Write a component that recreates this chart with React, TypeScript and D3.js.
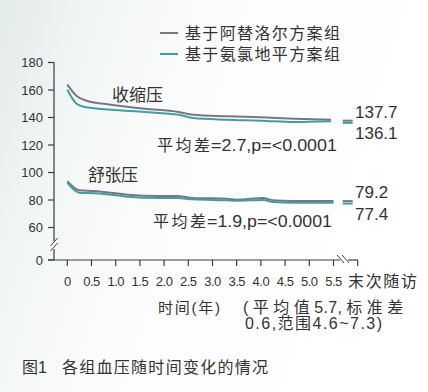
import React from "react";
import * as d3 from "d3";

const W = 428;
const H = 392;

// ---- data ----
const sysTimes = [0, 0.2, 0.4, 0.9, 1.6, 2.3, 2.6, 3.3, 4.0, 4.7, 5.45];
const sysAtenolol = [163.9, 155.4, 152.2, 149.3, 146.4, 144.0, 142.0, 140.9, 140.1, 139.1, 138.4];
const sysAmlodipine = [160.2, 149.8, 147.4, 145.7, 144.0, 142.0, 139.6, 138.4, 137.7, 136.7, 137.2];

const diaTimes = [0, 0.15, 0.25, 0.55, 0.9, 1.25, 1.9, 2.25, 2.6, 3.3, 3.5, 4.05, 4.25, 4.65, 5.5];
const diaAtenolol = [93.6, 88.7, 87.1, 86.5, 85.3, 83.9, 82.9, 82.9, 81.5, 80.9, 80.2, 81.5, 79.8, 79.3, 79.3];
const diaAmlodipine = [92.6, 87.1, 85.3, 84.9, 83.9, 82.4, 81.5, 81.5, 80.5, 79.8, 79.5, 80.0, 78.5, 78.0, 78.0];

const lastVisitSys = [137.7, 136.1];
const lastVisitDia = [79.2, 77.4];

const xTickValues = [0, 0.5, 1, 1.5, 2, 2.5, 3, 3.5, 4, 4.5, 5, 5.5];
const xTickLabels = ["0", "0.5", "1.0", "1.5", "2.0", "2.5", "3.0", "3.5", "4.0", "4.5", "5.0", "5.5"];
const lastVisitPos = 6;
const lastVisitLabel = "末次随访";
const yTickValues = [180, 160, 140, 120, 100, 80, 60];

const seriesNames = ["基于阿替洛尔方案组", "基于氨氯地平方案组"];
const colors = ["#7e7480", "#3f9ea4"];

const FONT = "'Liberation Sans', Arial, 'Noto Sans CJK SC', sans-serif";
const TEXT = "#333333";
const AXIS = "#3c3c3c";

export default function App() {
  const x = d3.scaleLinear().domain([0, 6]).range([67.3, 357.7]);
  const y = d3.scaleLinear().domain([60, 180]).range([227.5, 62.5]);
  const yZero = 260;
  const yAxisX = 54;

  const line = (times: number[]) =>
    d3
      .line<number>()
      .x((_, i) => x(times[i]))
      .y((v) => y(v))
      .curve(d3.curveMonotoneX);

  const sysLine = line(sysTimes);
  const diaLine = line(diaTimes);

  const endMark = (vals: number[], key: string) => {
    const xc = x(lastVisitPos);
    return (
      <g key={key}>
        {vals.map((v, i) => (
          <line
            key={i}
            x1={xc - 15}
            x2={xc - 5}
            y1={y(v)}
            y2={y(v)}
            stroke={colors[i]}
            strokeWidth={2}
          />
        ))}
        <text x={355} y={y(vals[0]) - 9} dy="0.35em" fontSize={17} fill={TEXT} fontFamily={FONT}>
          {vals[0].toFixed(1)}
        </text>
        <text x={355} y={y(vals[1]) + 10} dy="0.35em" fontSize={17} fill={TEXT} fontFamily={FONT}>
          {vals[1].toFixed(1)}
        </text>
      </g>
    );
  };

  return (
    <svg
      width={W}
      height={H}
      viewBox={`0 0 ${W} ${H}`}
      style={{ position: "absolute", left: 0, top: 0, display: "block" }}
    >
      <defs>
        <linearGradient id="bg" x1="0" y1="0" x2="1" y2="0.3">
          <stop offset="0" stopColor="#e3eaea" />
          <stop offset="0.25" stopColor="#f4f7f7" />
          <stop offset="0.55" stopColor="#fdfdfd" />
          <stop offset="1" stopColor="#ffffff" />
        </linearGradient>
      </defs>
      <rect x={0} y={0} width={W} height={H} fill="url(#bg)" />

      {/* legend */}
      {seriesNames.map((name, i) => (
        <g key={name}>
          <line x1={160} x2={178} y1={33 + i * 21} y2={33 + i * 21} stroke={colors[i]} strokeWidth={2} />
          <text
            x={185}
            y={33 + i * 21}
            dy="0.35em"
            fontSize={16}
            fill={TEXT}
            fontFamily={FONT}
            textLength={155}
            lengthAdjust="spacing"
          >
            {name}
          </text>
        </g>
      ))}

      {/* y axis */}
      <line x1={yAxisX} x2={yAxisX} y1={y(180)} y2={241} stroke={AXIS} strokeWidth={1.2} />
      <line x1={yAxisX} x2={yAxisX} y1={249} y2={yZero} stroke={AXIS} strokeWidth={1.2} />
      <line x1={50.5} y1={246} x2={57.5} y2={238} stroke={AXIS} strokeWidth={1} />
      <line x1={50.5} y1={251} x2={57.5} y2={243} stroke={AXIS} strokeWidth={1} />
      {yTickValues.map((v) => (
        <g key={v}>
          <line x1={yAxisX - 6} x2={yAxisX} y1={y(v)} y2={y(v)} stroke={AXIS} strokeWidth={1.2} />
          <text x={43} y={y(v)} dy="0.35em" textAnchor="end" fontSize={13} fill={TEXT} fontFamily={FONT}>
            {v}
          </text>
        </g>
      ))}
      <line x1={yAxisX - 6} x2={yAxisX} y1={yZero} y2={yZero} stroke={AXIS} strokeWidth={1.2} />
      <text x={43} y={yZero} dy="0.35em" textAnchor="end" fontSize={13} fill={TEXT} fontFamily={FONT}>
        0
      </text>

      {/* x axis */}
      <line x1={yAxisX - 6} x2={340} y1={yZero} y2={yZero} stroke={AXIS} strokeWidth={1.2} />
      <line x1={348} x2={x(lastVisitPos)} y1={yZero} y2={yZero} stroke={AXIS} strokeWidth={1.2} />
      <line x1={337} y1={255} x2={344} y2={263} stroke={AXIS} strokeWidth={1} />
      <line x1={342} y1={255} x2={349} y2={263} stroke={AXIS} strokeWidth={1} />
      {xTickValues.map((v, i) => (
        <g key={v}>
          <line x1={x(v)} x2={x(v)} y1={yZero} y2={yZero + 6} stroke={AXIS} strokeWidth={1.2} />
          <text
            x={x(v)}
            y={281}
            dy="0.35em"
            textAnchor="middle"
            fontSize={13}
            letterSpacing={-0.5}
            fill={TEXT}
            fontFamily={FONT}
          >
            {xTickLabels[i]}
          </text>
        </g>
      ))}
      <line
        x1={x(lastVisitPos)}
        x2={x(lastVisitPos)}
        y1={yZero}
        y2={yZero + 6}
        stroke={AXIS}
        strokeWidth={1.2}
      />
      <text
        x={348}
        y={281}
        dy="0.35em"
        fontSize={16}
        fill={TEXT}
        fontFamily={FONT}
        textLength={69}
        lengthAdjust="spacing"
      >
        {lastVisitLabel}
      </text>

      {/* x axis title */}
      <text x={158} y={308} dy="0.35em" fontSize={15} fill={TEXT} fontFamily={FONT} textLength={62} lengthAdjust="spacing">
        时间(年)
      </text>
      <text x={243} y={307} dy="0.35em" fontSize={16} fill={TEXT} fontFamily={FONT}>
        <tspan letterSpacing={4.5}>(平均值</tspan>
        <tspan letterSpacing={0.3}>5.7,</tspan>
        <tspan dx={4} letterSpacing={4.5}>标准差</tspan>
      </text>
      <text x={245} y={323} dy="0.35em" fontSize={16} fill={TEXT} fontFamily={FONT} textLength={137} lengthAdjust="spacing">
        0.6,范围4.6~7.3)
      </text>

      {/* data lines */}
      <path d={sysLine(sysAtenolol) || ""} fill="none" stroke={colors[0]} strokeWidth={2} />
      <path d={sysLine(sysAmlodipine) || ""} fill="none" stroke={colors[1]} strokeWidth={2} />
      <path d={diaLine(diaAtenolol) || ""} fill="none" stroke={colors[0]} strokeWidth={2} />
      <path d={diaLine(diaAmlodipine) || ""} fill="none" stroke={colors[1]} strokeWidth={2} />

      {endMark(lastVisitSys, "sys")}
      {endMark(lastVisitDia, "dia")}

      {/* annotations */}
      <text x={112} y={95} dy="0.35em" fontSize={17} fill={TEXT} fontFamily={FONT} textLength={51} lengthAdjust="spacing">
        收缩压
      </text>
      <text x={88} y={175} dy="0.35em" fontSize={17} fill={TEXT} fontFamily={FONT} textLength={50} lengthAdjust="spacing">
        舒张压
      </text>

      <text x={157} y={145} dy="0.35em" fontSize={16} fill={TEXT} fontFamily={FONT} textLength={53} lengthAdjust="spacing">
        平均差
      </text>
      <text x={211} y={145} dy="0.35em" fontSize={16} fill={TEXT} fontFamily={FONT} textLength={126} lengthAdjust="spacingAndGlyphs">
        =2.7,p=&lt;0.0001
      </text>
      <text x={153} y={221} dy="0.35em" fontSize={16} fill={TEXT} fontFamily={FONT} textLength={53} lengthAdjust="spacing">
        平均差
      </text>
      <text x={207} y={221} dy="0.35em" fontSize={16} fill={TEXT} fontFamily={FONT} textLength={125} lengthAdjust="spacingAndGlyphs">
        =1.9,p=&lt;0.0001
      </text>

      {/* caption */}
      <text x={22} y={367} dy="0.35em" fontSize={16} fill={TEXT} fontFamily={FONT}>
        图1
      </text>
      <text x={62} y={367} dy="0.35em" fontSize={16} fill={TEXT} fontFamily={FONT} textLength={206} lengthAdjust="spacing">
        各组血压随时间变化的情况
      </text>
    </svg>
  );
}
